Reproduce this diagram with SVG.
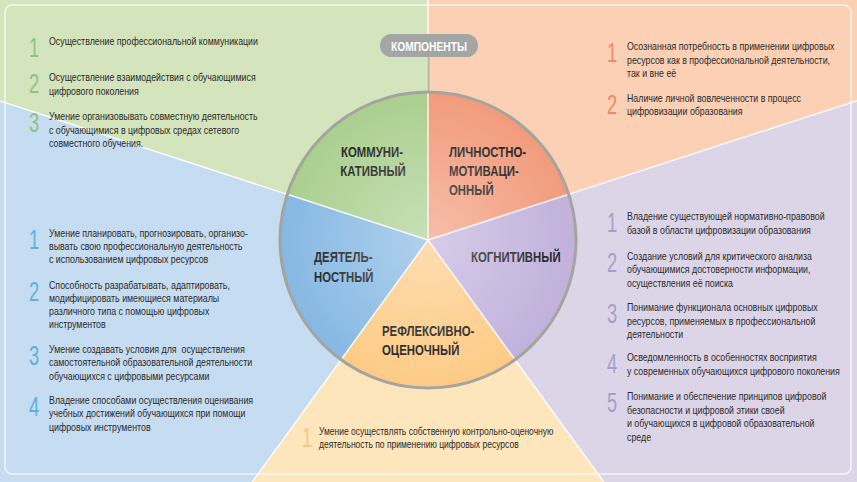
<svg xmlns="http://www.w3.org/2000/svg" width="857" height="482" viewBox="0 0 857 482">
<style>
.t{font-family:"Liberation Sans",Arial,sans-serif;font-size:10.5px;fill:#2a2a2a}
.num{font-family:"Liberation Sans",Arial,sans-serif;font-size:27px}
.lbl{font-family:"Liberation Sans",Arial,sans-serif;font-weight:bold;font-size:15px;fill:#1c1c1c}
.sep{stroke:#ffffff;stroke-width:1.5;stroke-opacity:0.85;fill:none}
</style>
<defs>
<radialGradient id="glow" cx="428" cy="240" r="148" gradientUnits="userSpaceOnUse">
<stop offset="0" stop-color="#ffffff" stop-opacity="0.35"/>
<stop offset="1" stop-color="#ffffff" stop-opacity="0"/>
</radialGradient>
</defs>

<!-- background sectors -->
<polygon points="428,240 428,0 857,0 857,100.6" fill="#fbd0b5"/>
<polygon points="428,240 857,100.6 857,482 603.8,482" fill="#dcd5e8"/>
<polygon points="428,240 603.8,482 252.2,482" fill="#fee6bc"/>
<polygon points="428,240 252.2,482 0,482 0,100.9" fill="#c6dcf0"/>
<polygon points="428,240 0,100.9 0,0 428,0" fill="#d4e4bc"/>
<g class="sep">
<line x1="428" y1="240" x2="428" y2="0"/>
<line x1="428" y1="240" x2="857" y2="100.6"/>
<line x1="428" y1="240" x2="603.8" y2="482"/>
<line x1="428" y1="240" x2="252.2" y2="482"/>
<line x1="428" y1="240" x2="0" y2="100.9"/>
</g>
<rect x="5" y="5" width="846" height="469" rx="7" fill="none" stroke="#ffffff" stroke-opacity="0.75" stroke-width="1.5"/>

<!-- Node: Коммуникативный -->
<g id="kommunikativny">
<path d="M428,240 L287.24,194.27 A148,148 0 0 1 428,92 Z" fill="#aacf8f"/>
<text class="lbl" text-anchor="middle" transform="translate(372,157) scale(0.76,1)">КОММУНИ-</text>
<text class="lbl" text-anchor="middle" transform="translate(373,176) scale(0.76,1)">КАТИВНЫЙ</text>
<g fill="#8ec385">
<text class="num" transform="translate(29,57) scale(0.68,1)">1</text>
<text class="num" transform="translate(29,93) scale(0.68,1)">2</text>
<text class="num" transform="translate(29,132) scale(0.68,1)">3</text>
</g>
<g transform="translate(49,0) scale(0.84,1)">
<text class="t" x="0" y="45.5">Осуществление профессиональной коммуникации</text>
<text class="t" x="0" y="81.5">Осуществление взаимодействия с обучающимися</text>
<text class="t" x="0" y="95.5">цифрового поколения</text>
<text class="t" x="0" y="120.5">Умение организовывать совместную деятельность</text>
<text class="t" x="0" y="134.5">с обучающимися в цифровых средах сетевого</text>
<text class="t" x="0" y="147.5">совместного обучения.</text>
</g>
</g>

<!-- Node: Личностно-мотивационный -->
<g id="lichnostno-motivatsionny">
<path d="M428,240 L428,92 A148,148 0 0 1 568.76,194.27 Z" fill="#f29b7c"/>
<text class="lbl" transform="translate(449,157) scale(0.76,1)">ЛИЧНОСТНО-</text>
<text class="lbl" transform="translate(449,176) scale(0.76,1)">МОТИВАЦИ-</text>
<text class="lbl" transform="translate(449,195) scale(0.76,1)">ОННЫЙ</text>
<g fill="#ee8a68">
<text class="num" transform="translate(607,62) scale(0.68,1)">1</text>
<text class="num" transform="translate(607,114) scale(0.68,1)">2</text>
</g>
<g transform="translate(627,0) scale(0.84,1)">
<text class="t" x="0" y="50">Осознанная потребность в применении цифровых</text>
<text class="t" x="0" y="64">ресурсов как в профессиональной деятельности,</text>
<text class="t" x="0" y="77">так и вне её</text>
<text class="t" x="0" y="102">Наличие личной вовлеченности в процесс</text>
<text class="t" x="0" y="115">цифровизации образования</text>
</g>
</g>

<!-- Node: Когнитивный -->
<g id="kognitivny">
<path d="M428,240 L568.76,194.27 A148,148 0 0 1 514.99,359.73 Z" fill="#c1b1dc"/>
<text class="lbl" transform="translate(471,262) scale(0.76,1)">КОГНИТИВНЫЙ</text>
<g fill="#a8a0c4">
<text class="num" transform="translate(607,232) scale(0.68,1)">1</text>
<text class="num" transform="translate(607,272) scale(0.68,1)">2</text>
<text class="num" transform="translate(607,323) scale(0.68,1)">3</text>
<text class="num" transform="translate(607,373) scale(0.68,1)">4</text>
<text class="num" transform="translate(607,412) scale(0.68,1)">5</text>
</g>
<g transform="translate(627,0) scale(0.84,1)">
<text class="t" x="0" y="220">Владение существующей нормативно-правовой</text>
<text class="t" x="0" y="234">базой в области цифровизации образования</text>
<text class="t" x="0" y="260">Создание условий для критического анализа</text>
<text class="t" x="0" y="273">обучающимися достоверности информации,</text>
<text class="t" x="0" y="287">осуществления её поиска</text>
<text class="t" x="0" y="311">Понимание функционала основных цифровых</text>
<text class="t" x="0" y="325">ресурсов, применяемых в профессиональной</text>
<text class="t" x="0" y="338">деятельности</text>
<text class="t" x="0" y="361">Осведомленность в особенностях восприятия</text>
<text class="t" x="0" y="375">у современных обучающихся цифрового поколения</text>
<text class="t" x="0" y="400">Понимание и обеспечение принципов цифровой</text>
<text class="t" x="0" y="414">безопасности и цифровой этики своей</text>
<text class="t" x="0" y="427">и обучающихся в цифровой образовательной</text>
<text class="t" x="0" y="441">среде</text>
</g>
</g>

<!-- Node: Рефлексивно-оценочный -->
<g id="refleksivno-otsenochny">
<path d="M428,240 L514.99,359.73 A148,148 0 0 1 341.01,359.73 Z" fill="#fdcb86"/>
<text class="lbl" transform="translate(382,336) scale(0.76,1)">РЕФЛЕКСИВНО-</text>
<text class="lbl" transform="translate(382,355) scale(0.76,1)">ОЦЕНОЧНЫЙ</text>
<text class="num" fill="#f6c680" transform="translate(302,447) scale(0.68,1)">1</text>
<g transform="translate(319,0) scale(0.81,1)">
<text class="t" x="0" y="435">Умение осуществлять собственную контрольно-оценочную</text>
<text class="t" x="0" y="448">деятельность по применению цифровых ресурсов</text>
</g>
</g>

<!-- Node: Деятельностный -->
<g id="deyatelnostny">
<path d="M428,240 L341.01,359.73 A148,148 0 0 1 287.24,194.27 Z" fill="#86b8e3"/>
<text class="lbl" transform="translate(314,262) scale(0.76,1)">ДЕЯТЕЛЬ-</text>
<text class="lbl" transform="translate(314,282) scale(0.76,1)">НОСТНЫЙ</text>
<g fill="#5fb0e0">
<text class="num" transform="translate(29,249) scale(0.68,1)">1</text>
<text class="num" transform="translate(29,301) scale(0.68,1)">2</text>
<text class="num" transform="translate(29,365) scale(0.68,1)">3</text>
<text class="num" transform="translate(29,416) scale(0.68,1)">4</text>
</g>
<g transform="translate(49,0) scale(0.84,1)">
<text class="t" x="0" y="237">Умение планировать, прогнозировать, организо-</text>
<text class="t" x="0" y="250">вывать свою профессиональную деятельность</text>
<text class="t" x="0" y="263">с использованием цифровых ресурсов</text>
<text class="t" x="0" y="289">Способность разрабатывать, адаптировать,</text>
<text class="t" x="0" y="302">модифицировать имеющиеся материалы</text>
<text class="t" x="0" y="315">различного типа с помощью цифровых</text>
<text class="t" x="0" y="328">инструментов</text>
<text class="t" x="0" y="353" xml:space="preserve">Умение создавать условия для  осуществления</text>
<text class="t" x="0" y="366">самостоятельной образовательной деятельности</text>
<text class="t" x="0" y="380">обучающихся с цифровыми ресурсами</text>
<text class="t" x="0" y="404">Владение способами осуществления оценивания</text>
<text class="t" x="0" y="417">учебных достижений обучающихся при помощи</text>
<text class="t" x="0" y="431">цифровых инструментов</text>
</g>
</g>

<!-- circle overlay, separators and border -->
<circle cx="428" cy="240" r="148" fill="url(#glow)"/>
<g class="sep">
<line x1="428" y1="240" x2="428" y2="92"/>
<line x1="428" y1="240" x2="568.76" y2="194.27"/>
<line x1="428" y1="240" x2="514.99" y2="359.73"/>
<line x1="428" y1="240" x2="341.01" y2="359.73"/>
<line x1="428" y1="240" x2="287.24" y2="194.27"/>
</g>
<circle cx="428" cy="240" r="148" fill="none" stroke="#a4a59e" stroke-width="3"/>

<!-- Connectors -->
<g id="connectors">
<line x1="428.5" y1="57" x2="428.5" y2="91" stroke="#b2b3ad" stroke-width="2"/>
</g>

<!-- Title pill -->
<g id="komponenty">
<rect x="380" y="34" width="98" height="23" rx="11.5" fill="#a3a6a4"/>
<text text-anchor="middle" transform="translate(429,51) scale(0.82,1)" font-family="Liberation Sans,Arial,sans-serif" font-weight="bold" font-size="12.5" fill="#ffffff">КОМПОНЕНТЫ</text>
</g>
</svg>
